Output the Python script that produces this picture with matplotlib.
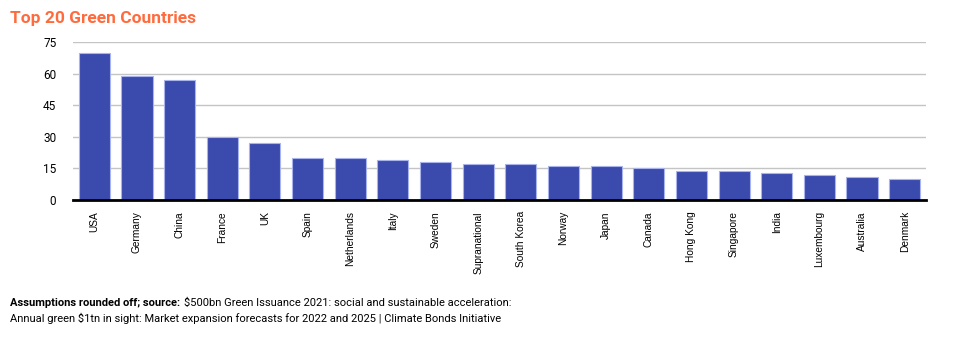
import matplotlib
matplotlib.use("Agg")
import matplotlib.pyplot as plt
import numpy as np

# Green bond issuance by country
countries = ["USA", "Germany", "China", "France", "UK", "Spain", "Netherlands",
             "Italy", "Sweden", "Supranational", "South Korea", "Norway", "Japan",
             "Canada", "Hong Kong", "Singapore", "India", "Luxembourg",
             "Australia", "Denmark"]
values = [70, 59, 57, 30, 27, 20, 20, 19, 18, 17, 17, 16, 16, 15, 14, 14, 13, 12, 11, 10]
y_ticks = [0, 15, 30, 45, 60, 75]

bar_color = "#3a4aad"
edge_color = "#aab4ec"

fig = plt.figure(figsize=(9.8, 3.41), dpi=100)
ax = fig.add_axes([73 / 980, 1 - 200 / 341, (926 - 73) / 980, 158 / 341])

x = np.arange(len(countries))
ax.bar(x, values, width=0.73, color=bar_color, edgecolor=edge_color,
       linewidth=0.8, zorder=3)

ax.set_xlim(-0.5, len(countries) - 0.5)
ax.set_ylim(0, 75)
ax.set_yticks(y_ticks)
ax.set_yticklabels([str(t) for t in y_ticks], fontsize=8.5, family="Roboto")
ax.yaxis.grid(True, color="#c4c4c4", linewidth=1, zorder=0)
ax.tick_params(axis="y", length=0, pad=12)
ax.set_xticks(x)
ax.set_xticklabels(countries, rotation=90, fontsize=7.3,
                   family="Liberation Sans", va="top")
ax.tick_params(axis="x", length=0, pad=8)

for side in ["left", "right", "top"]:
    ax.spines[side].set_visible(False)
ax.spines["bottom"].set_linewidth(2)
ax.spines["bottom"].set_color("black")
ax.spines["bottom"].set_zorder(4)

fig.text(10 / 980, 1 - 18 / 341, "Top 20 Green Countries", color="#ff6b3d",
         fontsize=12.5, fontweight="bold", family="Roboto", va="center")

# source note: bold lead-in followed by regular text
fig.canvas.draw()
renderer = fig.canvas.get_renderer()
lead = fig.text(10 / 980, 1 - 303 / 341, "Assumptions rounded off; source:",
                fontsize=8, fontweight="bold", family="Roboto", va="center")
bb = lead.get_window_extent(renderer)
fig.text((bb.x1 + 4) / 980, 1 - 303 / 341,
         "$500bn Green Issuance 2021: social and sustainable acceleration:",
         fontsize=8, family="Roboto", va="center")
fig.text(10 / 980, 1 - 318 / 341,
         "Annual green $1tn in sight: Market expansion forecasts for 2022 and 2025 | Climate Bonds Initiative",
         fontsize=8, family="Roboto", va="center")

fig.savefig("out.png", dpi=100)
